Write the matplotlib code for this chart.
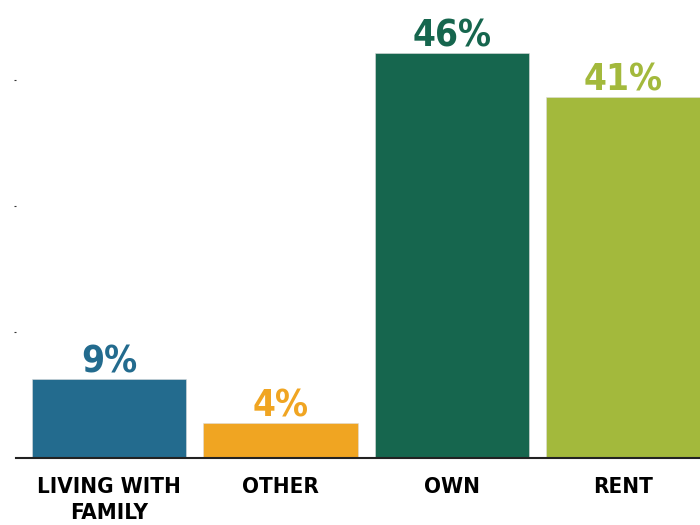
import matplotlib.pyplot as plt
from matplotlib import font_manager

categories = ["LIVING WITH\nFAMILY", "OTHER", "OWN", "RENT"]
shares = [9, 4, 46, 41]
colors = ["#236b8e", "#f0a522", "#16664e", "#a3b93c"]
grid_marks = [14.3, 28.6, 42.9]


def narrow_font():
    # prefer a condensed bold face, the labels are set tight
    found = []
    for f in font_manager.fontManager.ttflist:
        tag = (f.name + " " + str(f.stretch)).lower()
        if "condensed" in tag or "narrow" in tag:
            found.append(f)
    bold = [f for f in found if f.weight in ("bold", 700) or "bold" in f.fname.lower()]
    pick = bold or found
    if pick:
        return font_manager.FontProperties(fname=pick[0].fname)
    return font_manager.FontProperties(family="DejaVu Sans", weight="bold")


fp = narrow_font()

fig = plt.figure(figsize=(7, 5.25), dpi=100)
ax = fig.add_axes([16 / 700, 67 / 525, 684 / 700, 458 / 525])

xs = range(len(shares))
bars = ax.bar(xs, shares, width=0.9, color=colors, edgecolor="#dddddd", linewidth=0.4)

for b, v, c in zip(bars, shares, colors):
    t = ax.text(b.get_x() + b.get_width() / 2, v + 0.75, f"{v}%", ha="center", va="baseline",
                color=c, fontproperties=fp)
    t.set_fontsize(26.5)

ax.set_xlim(-0.542, 3.446)
ax.set_ylim(0, 52)
ax.set_xticks(list(xs))
ax.set_xticklabels(categories, linespacing=1.35, va="top")
for lbl in ax.get_xticklabels():
    lbl.set_fontproperties(fp)
    lbl.set_fontsize(16)
ax.tick_params(axis="x", length=0, pad=14)
ax.set_yticks(grid_marks)
ax.set_yticklabels([])
ax.tick_params(axis="y", length=1.2, width=0.8, color="#333333")

for s in ["top", "right", "left"]:
    ax.spines[s].set_visible(False)
ax.spines["bottom"].set_linewidth(1.5)
ax.spines["bottom"].set_color("#222222")

fig.savefig("out.png", dpi=100)
